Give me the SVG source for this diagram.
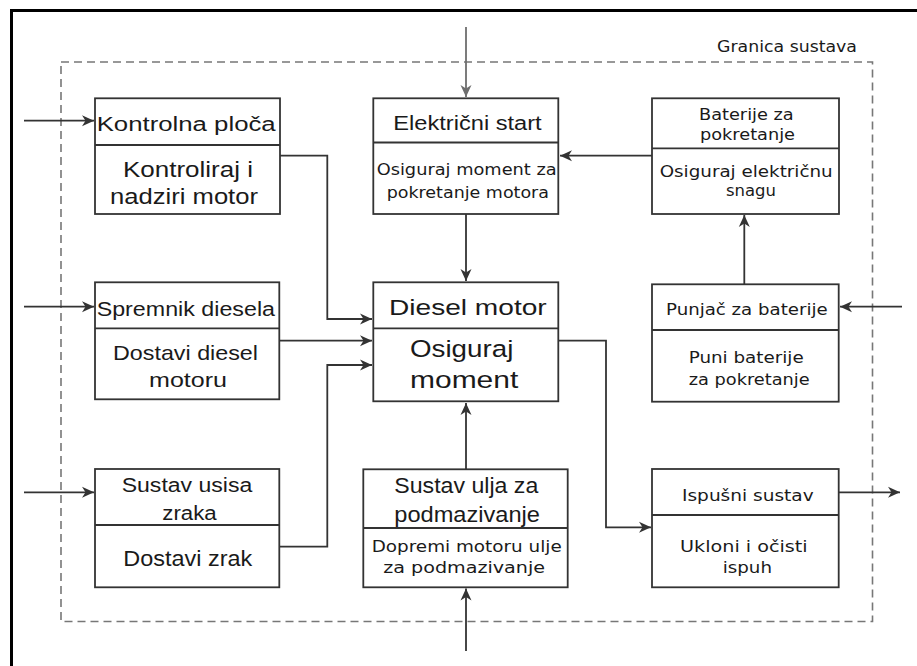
<svg xmlns="http://www.w3.org/2000/svg" width="917" height="666" viewBox="0 0 917 666">
<style>
.box{fill:#fff;stroke:#333;stroke-width:1.8}
.div{stroke:#333;stroke-width:1.8}
.c{fill:none;stroke:#333;stroke-width:1.8;marker-end:url(#ah)}
.cg{fill:none;stroke:#6e6e6e;stroke-width:1.8;marker-end:url(#ahg)}
.a{font-family:"Liberation Sans",Arial,sans-serif;fill:#1a1a1a}
.v{font-family:"DejaVu Sans",Verdana,sans-serif;fill:#1a1a1a}
</style>
<defs>
<marker id="ah" viewBox="-13 -6 14 12" refX="0" refY="0" markerWidth="14" markerHeight="12" orient="auto" markerUnits="userSpaceOnUse"><path d="M0,0 L-12,-5.5 L-8.5,0 L-12,5.5 Z" fill="#333"/></marker>
<marker id="ahg" viewBox="-13 -6 14 12" refX="0" refY="0" markerWidth="14" markerHeight="12" orient="auto" markerUnits="userSpaceOnUse"><path d="M0,0 L-12,-5.5 L-8.5,0 L-12,5.5 Z" fill="#6e6e6e"/></marker>
</defs>
<rect x="0" y="0" width="917" height="666" fill="#fff"/>
<path d="M11.5,670 V10.5 H920" fill="none" stroke="#000" stroke-width="3"/>
<g id="boundary">
<rect x="61" y="62" width="811.5" height="559.5" fill="none" stroke="#777" stroke-width="1.6" stroke-dasharray="8 5"/>
<text class="v" x="717" y="52" font-size="15.5" textLength="140" lengthAdjust="spacingAndGlyphs">Granica sustava</text>
</g>
<g id="connectors">
<path class="c" d="M24,120.7 H94"/>
<path class="c" d="M24,306.7 H94"/>
<path class="c" d="M24,492.3 H94"/>
<path class="cg" d="M466,27 V97"/>
<path class="c" d="M280,155.7 H327.3 V319 H372"/>
<path class="c" d="M279.3,340.7 H372"/>
<path class="c" d="M279.3,546.7 H327.3 V365 H372"/>
<path class="c" d="M466,214 V281"/>
<path class="c" d="M652,155.7 H560"/>
<path class="c" d="M744.3,284.3 V215"/>
<path class="c" d="M902,306.7 H840"/>
<path class="c" d="M466,469.3 V403"/>
<path class="c" d="M466,651 V588.5"/>
<path class="c" d="M558.3,340.7 H606 V527.3 H651"/>
<path class="c" d="M838.7,492.3 H900"/>
</g>
<g id="kontrolna">
<rect class="box" x="95" y="98.3" width="185" height="115.7"/>
<line class="div" x1="95" y1="145" x2="280" y2="145"/>
<text class="a" x="96.7" y="131" font-size="20" textLength="179" lengthAdjust="spacingAndGlyphs">Kontrolna ploča</text>
<text class="a" x="123" y="177" font-size="22" textLength="130" lengthAdjust="spacingAndGlyphs">Kontroliraj i</text>
<text class="a" x="110" y="204" font-size="22" textLength="148" lengthAdjust="spacingAndGlyphs">nadziri motor</text>
</g>
<g id="elektricni">
<rect class="box" x="373.3" y="98.3" width="185" height="115.7"/>
<line class="div" x1="373.3" y1="142.5" x2="558.3" y2="142.5"/>
<text class="a" x="393.3" y="129.5" font-size="19.5" textLength="148.4" lengthAdjust="spacingAndGlyphs">Električni start</text>
<text class="v" x="376.7" y="175" font-size="16" textLength="180" lengthAdjust="spacingAndGlyphs">Osiguraj moment za</text>
<text class="v" x="386.7" y="197.5" font-size="16" textLength="162.3" lengthAdjust="spacingAndGlyphs">pokretanje motora</text>
</g>
<g id="baterije">
<rect class="box" x="652" y="98.3" width="187" height="115.7"/>
<line class="div" x1="652" y1="148.3" x2="839" y2="148.3"/>
<text class="v" x="699" y="120" font-size="15.5" textLength="94.7" lengthAdjust="spacingAndGlyphs">Baterije za</text>
<text class="v" x="700" y="140" font-size="15.5" textLength="95" lengthAdjust="spacingAndGlyphs">pokretanje</text>
<text class="v" x="659.7" y="176.7" font-size="16.5" textLength="173" lengthAdjust="spacingAndGlyphs">Osiguraj električnu</text>
<text class="v" x="726" y="195.5" font-size="16.5" textLength="50" lengthAdjust="spacingAndGlyphs">snagu</text>
</g>
<g id="spremnik">
<rect class="box" x="95" y="282.3" width="184.3" height="117"/>
<line class="div" x1="95" y1="328.3" x2="279.3" y2="328.3"/>
<text class="a" x="96.7" y="316" font-size="20" textLength="178.3" lengthAdjust="spacingAndGlyphs">Spremnik diesela</text>
<text class="a" x="113" y="360" font-size="21" textLength="145" lengthAdjust="spacingAndGlyphs">Dostavi diesel</text>
<text class="a" x="149" y="387.3" font-size="21" textLength="78" lengthAdjust="spacingAndGlyphs">motoru</text>
</g>
<g id="diesel">
<rect class="box" x="373.3" y="282.3" width="185" height="119"/>
<line class="div" x1="373.3" y1="328.3" x2="558.3" y2="328.3"/>
<text class="a" x="389" y="315" font-size="22.5" textLength="157.7" lengthAdjust="spacingAndGlyphs">Diesel motor</text>
<text class="a" x="410" y="356.7" font-size="24.5" textLength="103.3" lengthAdjust="spacingAndGlyphs">Osiguraj</text>
<text class="a" x="410" y="388.3" font-size="24.5" textLength="108.3" lengthAdjust="spacingAndGlyphs">moment</text>
</g>
<g id="punjac">
<rect class="box" x="652" y="284.3" width="186.7" height="117.4"/>
<line class="div" x1="652" y1="330" x2="838.7" y2="330"/>
<text class="v" x="666" y="315" font-size="15.5" textLength="161.7" lengthAdjust="spacingAndGlyphs">Punjač za baterije</text>
<text class="v" x="688.7" y="363.3" font-size="16" textLength="115" lengthAdjust="spacingAndGlyphs">Puni baterije</text>
<text class="v" x="688.7" y="385" font-size="16" textLength="121" lengthAdjust="spacingAndGlyphs">za pokretanje</text>
</g>
<g id="usisa">
<rect class="box" x="95" y="469" width="184.3" height="118.3"/>
<line class="div" x1="95" y1="525" x2="279.3" y2="525"/>
<text class="a" x="121.7" y="492.3" font-size="20" textLength="130.6" lengthAdjust="spacingAndGlyphs">Sustav usisa</text>
<text class="a" x="162.3" y="520" font-size="20" textLength="54.4" lengthAdjust="spacingAndGlyphs">zraka</text>
<text class="a" x="123.3" y="566" font-size="22" textLength="129" lengthAdjust="spacingAndGlyphs">Dostavi zrak</text>
</g>
<g id="ulje">
<rect class="box" x="363.3" y="469.3" width="204.4" height="118"/>
<line class="div" x1="363.3" y1="528" x2="567.7" y2="528"/>
<text class="a" x="394.3" y="493.3" font-size="21.5" textLength="144" lengthAdjust="spacingAndGlyphs">Sustav ulja za</text>
<text class="a" x="394.3" y="521.7" font-size="21.5" textLength="145.7" lengthAdjust="spacingAndGlyphs">podmazivanje</text>
<text class="v" x="371.7" y="551.7" font-size="16" textLength="190" lengthAdjust="spacingAndGlyphs">Dopremi motoru ulje</text>
<text class="v" x="383.3" y="573.3" font-size="16" textLength="161.7" lengthAdjust="spacingAndGlyphs">za podmazivanje</text>
</g>
<g id="ispusni">
<rect class="box" x="652" y="469" width="186.7" height="118.3"/>
<line class="div" x1="652" y1="515" x2="838.7" y2="515"/>
<text class="v" x="682" y="500.7" font-size="16.5" textLength="131.7" lengthAdjust="spacingAndGlyphs">Ispušni sustav</text>
<text class="v" x="680" y="552.3" font-size="16.5" textLength="127.7" lengthAdjust="spacingAndGlyphs">Ukloni i očisti</text>
<text class="v" x="722.7" y="573.3" font-size="16.5" textLength="49.3" lengthAdjust="spacingAndGlyphs">ispuh</text>
</g>
</svg>
